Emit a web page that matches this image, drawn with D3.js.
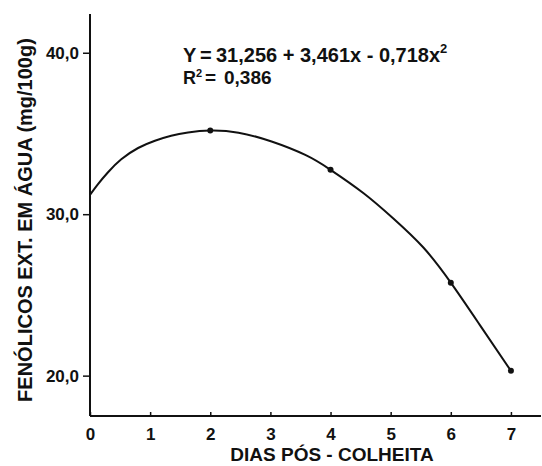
<!DOCTYPE html>
<html>
<head>
<meta charset="utf-8">
<script src="https://cdn.jsdelivr.net/npm/d3@7"></script>
<style>
  body { margin: 0; background: #fff; }
  text { font-family: "Liberation Sans", Arial, sans-serif; font-weight: bold; fill: #111; }
</style>
</head>
<body>
<div id="plot"></div>
<script>
// observed means (dots)
const pointDays = [2, 4, 6, 7];
const pointValues = [35.18, 32.75, 25.76, 20.3];

// fitted curve
const curveDays = [0, 0.13, 0.3, 0.52, 0.8, 1.08, 1.35, 1.63, 2, 2.47, 3.02, 3.58, 4, 4.55, 5.04, 5.54, 6, 6.49, 7];
const curveValues = [31.2, 31.85, 32.6, 33.4, 34.1, 34.55, 34.86, 35.06, 35.18, 35.05, 34.5, 33.67, 32.75, 31.3, 29.75, 27.95, 25.76, 23.1, 20.3];

const xTicks = [0, 1, 2, 3, 4, 5, 6, 7];
const yTicks = [20, 30, 40];

const W = 542, H = 466;
const svg = d3.select("#plot").append("svg")
    .attr("width", W)
    .attr("height", H);

const x = d3.scaleLinear().domain([0, 7.5]).range([90, 541]);
const y = d3.scaleLinear().domain([17.5, 42.4]).range([416, 14]);

// axes
const xAxis = svg.append("g")
    .attr("transform", `translate(0,${y(17.5)})`)
    .call(d3.axisBottom(x).tickValues(xTicks).tickSize(-4).tickPadding(12).tickFormat(d3.format("d")));
xAxis.select(".domain").attr("stroke", "#111").attr("stroke-width", 2).attr("d", `M${x(0)},0H${x(7.5)}`);
xAxis.selectAll(".tick line").attr("stroke", "#111").attr("stroke-width", 1.5);
xAxis.selectAll(".tick text").attr("font-size", 17).attr("dy", "0.72em");

const yAxis = svg.append("g")
    .attr("transform", `translate(${x(0)},0)`)
    .call(d3.axisLeft(y).tickValues(yTicks).tickSize(7).tickPadding(4)
      .tickFormat(d => d3.format(".1f")(d).replace(".", ",")));
yAxis.select(".domain").attr("stroke", "#111").attr("stroke-width", 2).attr("d", `M0,${y(42.4)}V${y(17.5)}`);
yAxis.selectAll(".tick line").attr("stroke", "#111").attr("stroke-width", 1.5);
yAxis.selectAll(".tick text").attr("font-size", 17);

// curve
const line = d3.line()
    .x((d, i) => x(curveDays[i]))
    .y((d, i) => y(curveValues[i]))
    .curve(d3.curveNatural);

svg.append("path")
    .datum(curveValues)
    .attr("d", line)
    .attr("fill", "none")
    .attr("stroke", "#111")
    .attr("stroke-width", 2);

svg.selectAll(".pt")
    .data(pointValues)
    .enter().append("circle")
      .attr("class", "pt")
      .attr("cx", (d, i) => x(pointDays[i]))
      .attr("cy", d => y(d))
      .attr("r", 3)
      .attr("fill", "#111");

// equation
const eq = svg.append("text").attr("y", 62).attr("font-size", 20);
eq.append("tspan").attr("x", 183).text("Y");
eq.append("tspan").attr("x", 200).text("=");
eq.append("tspan").attr("x", 216).text("31,256 + 3,461x - 0,718x");
eq.append("tspan").attr("font-size", 13).attr("dy", -9).text("2");

const r2 = svg.append("text").attr("y", 84).attr("font-size", 18);
r2.append("tspan").attr("x", 183).text("R");
r2.append("tspan").attr("font-size", 11).attr("dy", -7).text("2");
r2.append("tspan").attr("x", 205).attr("dy", 7).attr("font-size", 19).text("=");
r2.append("tspan").attr("x", 224).attr("font-size", 19).text("0,386");

// axis titles
svg.append("text")
    .attr("text-anchor", "middle")
    .attr("x", 332)
    .attr("y", 461)
    .attr("font-size", 19)
    .text("DIAS PÓS - COLHEITA");

svg.append("text")
    .attr("text-anchor", "middle")
    .attr("transform", "translate(32,220) rotate(-90)")
    .attr("font-size", 20)
    .text("FENÓLICOS EXT. EM ÁGUA (mg/100g)");
</script>
</body>
</html>
